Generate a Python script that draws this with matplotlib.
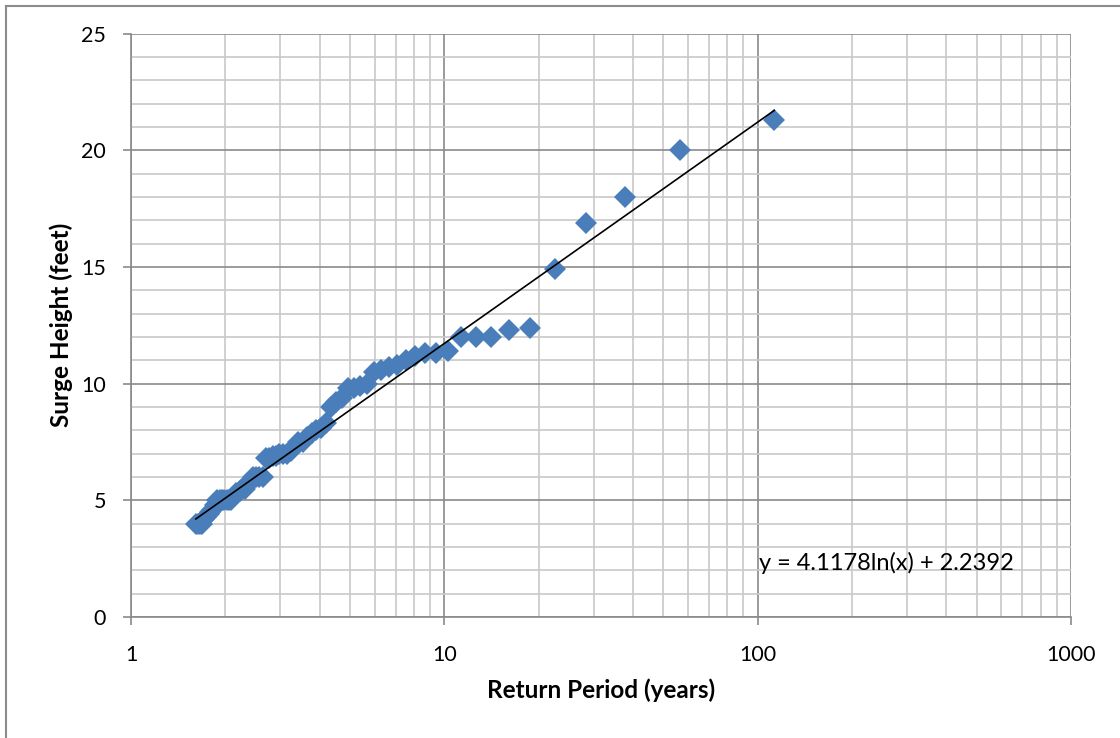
import matplotlib.pyplot as plt
from matplotlib.ticker import FixedLocator, NullFormatter
import numpy as np

plt.rcParams['font.family'] = ['Lato', 'DejaVu Sans']

# return period (years) and surge height (feet)
return_period = [113.0, 56.5, 37.7, 28.3, 22.6, 18.8, 16.1, 14.1, 12.6, 11.3,
                 10.3, 9.42, 8.69, 8.07, 7.53, 7.06, 6.65, 6.28, 5.95, 5.65,
                 5.38, 5.14, 4.91, 4.71, 4.52, 4.35, 4.19, 4.04, 3.90, 3.77,
                 3.65, 3.53, 3.42, 3.32, 3.23, 3.14, 3.05, 2.97, 2.90, 2.83,
                 2.76, 2.69, 2.63, 2.57, 2.51, 2.46, 2.40, 2.35, 2.31, 2.26,
                 2.22, 2.17, 2.13, 2.09, 2.05, 2.02, 1.98, 1.95, 1.92, 1.88,
                 1.85, 1.82, 1.79, 1.77, 1.74, 1.71, 1.69, 1.66, 1.64, 1.61]
surge_height = [21.3, 20.0, 18.0, 16.9, 14.9, 12.4, 12.3, 12.0, 12.0, 12.0,
                11.4, 11.3, 11.3, 11.2, 11.0, 10.8, 10.7, 10.6, 10.5, 10.0,
                9.9, 9.8, 9.8, 9.4, 9.2, 9.0, 8.3, 8.1, 8.0, 7.9,
                7.7, 7.5, 7.5, 7.3, 7.1, 7.0, 7.0, 7.0, 6.9, 6.9,
                6.8, 6.8, 6.0, 6.0, 6.0, 6.0, 5.8, 5.7, 5.5, 5.5,
                5.4, 5.3, 5.2, 5.0, 5.0, 5.0, 5.0, 5.0, 5.0, 5.0,
                4.8, 4.6, 4.5, 4.4, 4.3, 4.2, 4.0, 4.0, 4.0, 4.0]

# log trendline coefficients from the chart label
slope = 4.1178
intercept = 2.2392

x_ticks = [1, 10, 100, 1000]
y_ticks = [0, 5, 10, 15, 20, 25]

fig = plt.figure(figsize=(11.2, 7.38), dpi=100)
ax = fig.add_axes([131/1120, 1 - 617/738, (1071-131)/1120, (617-33.5)/738])

# outer chart border (only left and top fall inside the picture)
fig.add_artist(plt.Line2D([5.5/1120, 5.5/1120], [0, 1 - 5.5/738], color='#8c8c8c', lw=1.5))
fig.add_artist(plt.Line2D([5.5/1120, 1], [1 - 5.5/738, 1 - 5.5/738], color='#8c8c8c', lw=1.5))

ax.set_xscale('log')
ax.set_xlim(1, 1000)
ax.set_ylim(0, 25)

ax.xaxis.set_major_locator(FixedLocator(x_ticks))
ax.set_xticklabels([str(t) for t in x_ticks])
ax.xaxis.set_minor_locator(FixedLocator([m * d for d in [1, 10, 100] for m in range(2, 10)]))
ax.xaxis.set_minor_formatter(NullFormatter())
ax.set_yticks(y_ticks)
ax.set_yticks(range(0, 26), minor=True)

ax.grid(True, which='minor', color='#c8c8c8', lw=1.2)
ax.grid(True, which='major', color='#8a8a8a', lw=1.2)
ax.set_axisbelow(True)

for s in ['top', 'right']:
    ax.spines[s].set_visible(False)
for s in ['left', 'bottom']:
    ax.spines[s].set_color('#8a8a8a')
    ax.spines[s].set_linewidth(1.2)

ax.tick_params(which='major', length=6, width=1.2, color='#8a8a8a', labelsize=15.5)
ax.tick_params(axis='y', which='major', pad=12)
ax.tick_params(axis='x', which='major', pad=14)
ax.tick_params(which='minor', length=0)

ax.plot(return_period, surge_height, 'D', color='#4a7ebb', markersize=11, markeredgewidth=0, zorder=3)

xt = np.geomspace(min(return_period), max(return_period), 100)
ax.plot(xt, slope * np.log(xt) + intercept, color='black', lw=1.2, zorder=4)

ax.text(101, 2.3, 'y = 4.1178ln(x) + 2.2392', fontsize=17, va='center', ha='left')

ax.set_xlabel('Return Period (years)', fontsize=17.5, fontweight='bold', labelpad=10)
ax.set_ylabel('Surge Height (feet)', fontsize=17.5, fontweight='bold', labelpad=6)

fig.savefig('out.png', dpi=100)
